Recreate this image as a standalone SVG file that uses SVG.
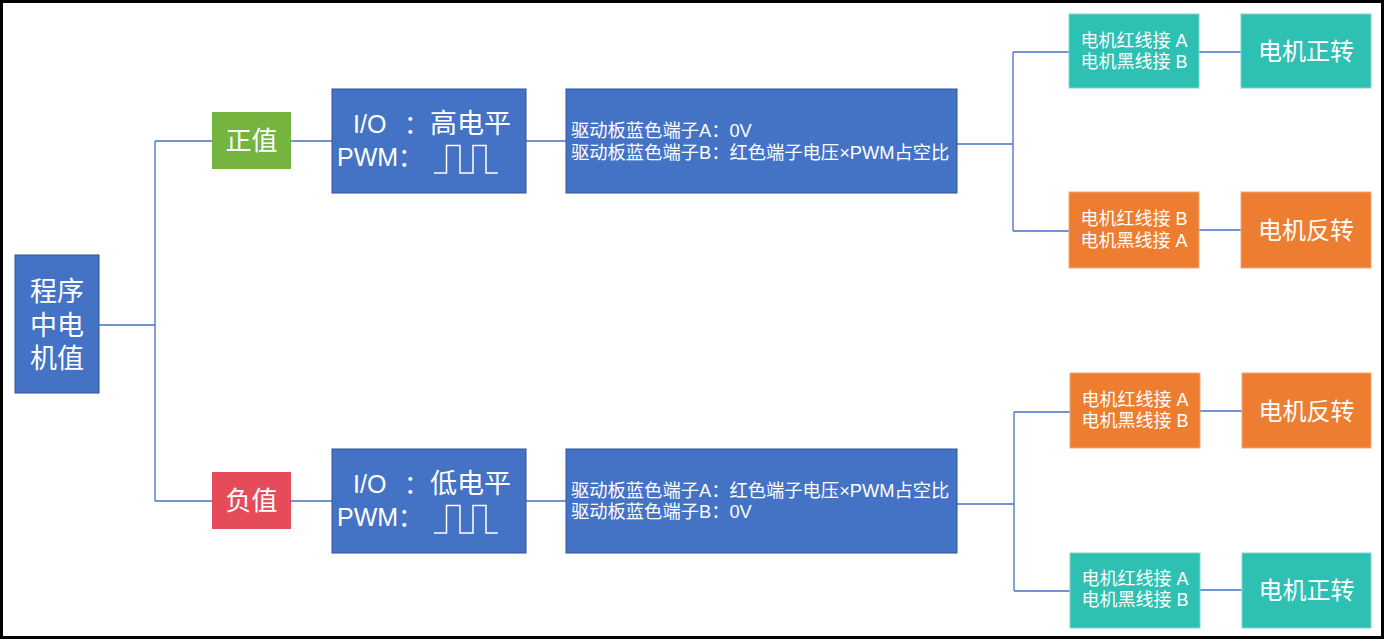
<svg xmlns="http://www.w3.org/2000/svg" width="1385" height="641" viewBox="0 0 1385 641">
<style>
.t{font-family:"Liberation Sans","Noto Sans CJK SC",sans-serif;fill:#fff;dominant-baseline:central}
.c{text-anchor:middle}
.blue{fill:#4472C4;stroke:#2F5597;stroke-width:1}
.teal{fill:#2EC0B2;stroke:#7FD8CF;stroke-width:1}
.orange{fill:#ED7D31;stroke:#F4A874;stroke-width:1}
.ln{fill:none;stroke:#4472C4;stroke-width:1.3}
.wave{fill:none;stroke:#fff;stroke-width:1.5}
</style>
<rect x="0" y="0" width="1385" height="641" fill="#fff"/>
<rect x="1.5" y="1.5" width="1381" height="636" fill="none" stroke="#000" stroke-width="3"/>
<g id="connectors">
<path class="ln" d="M99 325H155M155 141V501M155 141H212M155 501H212M291 141H332M291 501H332M526 141H566M526 501H566"/>
<path class="ln" d="M957 144H1013M1013 52V231M1013 52H1069M1013 231H1069M1199 52H1241M1199 230H1241"/>
<path class="ln" d="M957 504H1014M1014 412V591M1014 412H1070M1014 591H1070M1200 411H1242M1200 590H1242"/>
</g>
<g id="main">
<rect class="blue" x="15" y="255" width="84" height="138"/>
<text class="t c" font-size="27" x="57" y="292">程序</text>
<text class="t c" font-size="27" x="57" y="325.5">中电</text>
<text class="t c" font-size="27" x="57" y="359">机值</text>
</g>
<g id="pos">
<rect x="212" y="112" width="79" height="57" fill="#74B43F"/>
<text class="t c" font-size="26" x="251.5" y="141">正值</text>
</g>
<g id="neg">
<rect x="212" y="472" width="79" height="57" fill="#E64B5A"/>
<text class="t c" font-size="26" x="251.5" y="501">负值</text>
</g>
<g id="io-high">
<rect class="blue" x="332" y="89" width="194" height="104"/>
<text class="t" font-size="25" x="353" y="124">I/O</text>
<text class="t" font-size="25" x="404" y="124">：</text>
<text class="t" font-size="27" x="430" y="124">高电平</text>
<text class="t" font-size="25" x="337" y="157">PWM：</text>
<path class="wave" d="M434 173H446.5V145.5H460V173H473V145.5H486V173H498"/>
</g>
<g id="io-low">
<rect class="blue" x="332" y="449" width="194" height="104"/>
<text class="t" font-size="25" x="353" y="484">I/O</text>
<text class="t" font-size="25" x="404" y="484">：</text>
<text class="t" font-size="27" x="430" y="484">低电平</text>
<text class="t" font-size="25" x="337" y="517">PWM：</text>
<path class="wave" d="M434 533H446.5V505.5H460V533H473V505.5H486V533H498"/>
</g>
<g id="drv-high">
<rect class="blue" x="566" y="89" width="391" height="104"/>
<text class="t" font-size="18.3" x="571" y="130">驱动板蓝色端子A：0V</text>
<text class="t" font-size="18.3" x="571" y="152">驱动板蓝色端子B：红色端子电压×PWM占空比</text>
</g>
<g id="drv-low">
<rect class="blue" x="566" y="449" width="391" height="104"/>
<text class="t" font-size="18.3" x="571" y="490">驱动板蓝色端子A：红色端子电压×PWM占空比</text>
<text class="t" font-size="18.3" x="571" y="511">驱动板蓝色端子B：0V</text>
</g>
<g id="wire1">
<rect class="teal" x="1069" y="14" width="130" height="74"/>
<text class="t c" font-size="18" x="1134" y="40.5">电机红线接 A</text>
<text class="t c" font-size="18" x="1134" y="61.5">电机黑线接 B</text>
</g>
<g id="res1">
<rect class="teal" x="1241" y="14" width="130" height="74"/>
<text class="t c" font-size="24" x="1306" y="51">电机正转</text>
</g>
<g id="wire2">
<rect class="orange" x="1069" y="192" width="130" height="76"/>
<text class="t c" font-size="18" x="1134" y="219">电机红线接 B</text>
<text class="t c" font-size="18" x="1134" y="241">电机黑线接 A</text>
</g>
<g id="res2">
<rect class="orange" x="1241" y="192" width="130" height="76"/>
<text class="t c" font-size="24" x="1306" y="230">电机反转</text>
</g>
<g id="wire3">
<rect class="orange" x="1070" y="373" width="130" height="75"/>
<text class="t c" font-size="18" x="1135" y="400">电机红线接 A</text>
<text class="t c" font-size="18" x="1135" y="421">电机黑线接 B</text>
</g>
<g id="res3">
<rect class="orange" x="1242" y="373" width="129" height="75"/>
<text class="t c" font-size="24" x="1306.5" y="411">电机反转</text>
</g>
<g id="wire4">
<rect class="teal" x="1070" y="553" width="130" height="75"/>
<text class="t c" font-size="18" x="1135" y="579">电机红线接 A</text>
<text class="t c" font-size="18" x="1135" y="600">电机黑线接 B</text>
</g>
<g id="res4">
<rect class="teal" x="1242" y="553" width="129" height="75"/>
<text class="t c" font-size="24" x="1306.5" y="590">电机正转</text>
</g>
</svg>
